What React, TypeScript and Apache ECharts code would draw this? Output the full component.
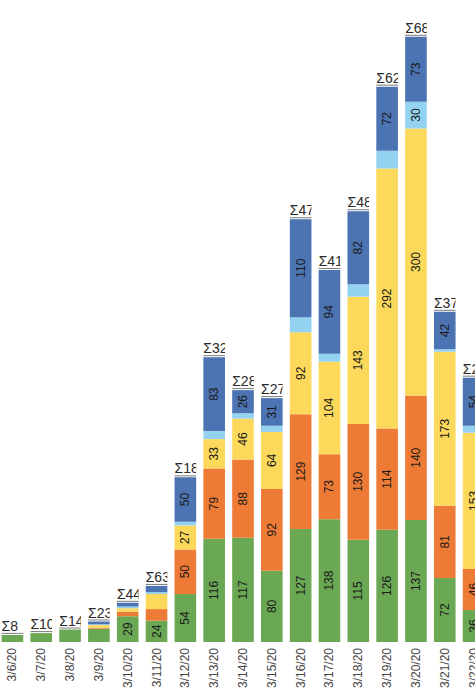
import React, { useEffect, useRef } from "react";
import * as echarts from "echarts";

const dates = [
  "3/6/20", "3/7/20", "3/8/20", "3/9/20", "3/10/20", "3/11/20", "3/12/20", "3/13/20",
  "3/14/20", "3/15/20", "3/16/20", "3/17/20", "3/18/20", "3/19/20", "3/20/20", "3/21/20", "3/22/20",
];
const greenVals = [8, 10, 14, 15, 29, 24, 54, 116, 117, 80, 127, 138, 115, 126, 137, 72, 36];
const orangeVals = [0, 0, 0, 1, 5, 13, 50, 79, 88, 92, 129, 73, 130, 114, 140, 81, 46];
const yellowVals = [0, 0, 0, 3, 4, 17, 27, 33, 46, 64, 92, 104, 143, 292, 300, 173, 153];
const lightBlueVals = [0, 0, 0, 1, 2, 2, 4, 9, 6, 7, 17, 9, 14, 20, 30, 3, 8];
const blueVals = [0, 0, 0, 3, 4, 7, 50, 83, 26, 31, 110, 94, 82, 72, 73, 42, 54];

const colors = ["#6BA854", "#EE7B35", "#FCD95B", "#93D2F0", "#4C73B2"];
const SHOW_MIN = 22;

export default function App() {
  const ref = useRef<HTMLDivElement>(null);
  useEffect(() => {
    if (!ref.current) return;
    const chart = echarts.init(ref.current, null, { renderer: "svg" });
    const groups = [greenVals, orangeVals, yellowVals, lightBlueVals, blueVals];
    const totals = dates.map((_, i) => groups.reduce((s, g) => s + g[i], 0));
    const names = ["A", "B", "C", "D", "E"];
    const barSeries = groups.map((g, k) => ({
      type: "bar",
      name: names[k],
      stack: "total",
      barWidth: "75%",
      data: g,
      itemStyle: { color: colors[k] },
      label: {
        show: true,
        position: "inside",
        rotate: 90,
        fontSize: 12,
        fontFamily: "Arial, Liberation Sans, sans-serif",
        color: "#1a1a1a",
        formatter: (p: any) => (p.value >= SHOW_MIN ? String(p.value) : ""),
      },
    }));
    const totalSeries = {
      type: "custom",
      name: "total",
      clip: false,
      z: 10,
      encode: { x: 0, y: 1 },
      data: totals.map((t, i) => [i, t]),
      renderItem: (params: any, api: any) => {
        const idx = api.value(0);
        const total = api.value(1);
        const top = api.coord([idx, total]);
        const bw = api.size([1, 0])[0] * 0.75;
        const left = top[0] - bw / 2;
        return {
          type: "group",
          children: [
            {
              type: "line",
              shape: { x1: left, y1: top[1] - 1.5, x2: left + bw, y2: top[1] - 1.5 },
              style: { stroke: "#7a7a7a", lineWidth: 1 },
            },
            {
              type: "text",
              x: left,
              y: top[1] - 2,
              style: {
                text: "Σ" + total,
                fill: "#2a2a2a",
                font: "14px Arial, 'Liberation Sans', sans-serif",
                textAlign: "left",
                textVerticalAlign: "bottom",
                align: "left",
                verticalAlign: "bottom",
              },
              clipPath: {
                type: "rect",
                shape: { x: 0, y: -22, width: bw, height: 22 },
              },
            },
          ],
        };
      },
    };
    chart.setOption({
      animation: false,
      backgroundColor: "#ffffff",
      grid: { left: 0, right: 0, top: 19, bottom: 50, containLabel: false, outerBoundsMode: "none" },
      xAxis: {
        type: "category",
        data: dates,
        axisLine: { show: false },
        axisTick: { show: false },
        axisLabel: {
          rotate: 90,
          interval: 0,
          margin: 6,
          fontSize: 12,
          fontFamily: "Arial, Liberation Sans, sans-serif",
          color: "#444",
        },
      },
      yAxis: { type: "value", min: 0, max: 700, show: false, splitLine: { show: false } },
      series: [...barSeries, totalSeries],
    } as any);
    return () => chart.dispose();
  }, []);
  return (
    <div
      style={{
        position: "fixed",
        left: 0,
        top: 0,
        width: 475,
        height: 692,
        overflow: "hidden",
        background: "#fff",
      }}
    >
      <div ref={ref} style={{ position: "absolute", left: -2, top: 0, width: 490, height: 692 }} />
    </div>
  );
}
